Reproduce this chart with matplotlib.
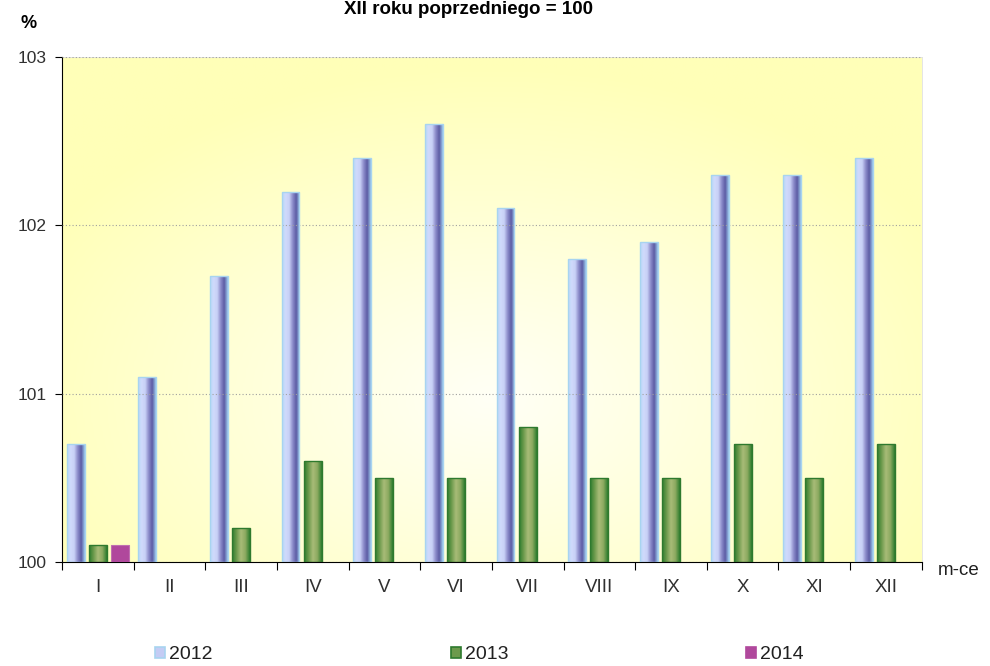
import numpy as np
import matplotlib
matplotlib.use('Agg')
import matplotlib.pyplot as plt
from matplotlib.colors import LinearSegmentedColormap

plt.rcParams['font.family'] = ['Liberation Sans', 'DejaVu Sans']

# data
months = ['I', 'II', 'III', 'IV', 'V', 'VI', 'VII', 'VIII', 'IX', 'X', 'XI', 'XII']
y2012 = [100.7, 101.1, 101.7, 102.2, 102.4, 102.6, 102.1, 101.8, 101.9, 102.3, 102.3, 102.4]
y2013 = [100.1, np.nan, 100.2, 100.6, 100.5, 100.5, 100.8, 100.5, 100.5, 100.7, 100.5, 100.7]
y2014 = [100.1] + [np.nan] * 11
series_names = ['2012', '2013', '2014']

base = 100
fig = plt.figure(figsize=(9.9, 6.66), dpi=100)
ax = fig.add_axes([0.0626, 0.1562, 0.8685, 0.7582])

x = np.arange(len(months))
w = 0.25
off = 0.31

# radial yellow background
gx, gy = np.meshgrid(np.linspace(-1, 1, 300), np.linspace(-1, 1, 200))
r = np.sqrt((gx / 1.0) ** 2 + ((gy + 0.35) / 1.1) ** 2)
r = np.clip(r / 1.2, 0, 1)
bg_cmap = LinearSegmentedColormap.from_list('bg', ['#FFFFF6', '#FFFFD8', '#FFFFB8'])
ax.imshow(r, cmap=bg_cmap, extent=[-0.5, 11.5, 100, 103], aspect='auto',
          origin='lower', zorder=0, vmin=0, vmax=1)

cm12 = LinearSegmentedColormap.from_list('c12', ['#B8D8F8', '#D0DAFC', '#C8D0F6', '#8C8CCA', '#5C5CA4', '#9CC8EC'])
cm13 = LinearSegmentedColormap.from_list('c13', ['#2E7D2E', '#6C9A4C', '#A8BC78', '#8CAA60', '#2E7D2E'])
grad = np.linspace(0, 1, 64).reshape(1, -1)


def grad_bars(xpos, vals, cmap, edge):
    bars = ax.bar(xpos, np.array(vals) - base, w, bottom=base, color='none',
                  edgecolor=edge, linewidth=1.0, zorder=3)
    for b in bars:
        if np.isnan(b.get_height()):
            continue
        bx, by = b.get_x(), b.get_y()
        im = ax.imshow(grad, cmap=cmap, aspect='auto', zorder=2,
                       extent=[bx, bx + b.get_width(), by, by + b.get_height()])
        im.set_clip_path(b)
    return bars


grad_bars(x - off, y2012, cm12, '#A8D4F0')
grad_bars(x, y2013, cm13, '#2E7A2E')
ax.bar(x + off, np.array(y2014) - base, w, bottom=base, color='#B0489C',
       edgecolor='#C070B0', linewidth=0.8, zorder=3)

ax.set_xlim(-0.5, 11.5)
ax.set_ylim(100, 103)
ax.set_yticks([100, 101, 102, 103])
ax.set_yticklabels(['100', '101', '102', '103'], fontsize=12.5, color='#303030')
ax.yaxis.grid(True, linestyle=(0, (1, 2)), color='#A0A0A0', linewidth=0.8)
ax.set_axisbelow(False)

ax.set_xticks(np.arange(-0.5, 12, 1))
ax.set_xticklabels([])
ax.set_xticks(x, minor=True)
ax.set_xticklabels(months, minor=True, fontsize=13.5, color='#303030')
ax.tick_params(axis='x', which='minor', length=0, pad=12)
ax.tick_params(axis='x', which='major', length=6, direction='out')
ax.tick_params(axis='y', length=5, direction='out', pad=6)

for s in ['top', 'right']:
    ax.spines[s].set_color('#E0E0E0')
    ax.spines[s].set_linewidth(0.6)
ax.spines['left'].set_color('black')
ax.spines['bottom'].set_color('black')

fig.text(0.473, 0.998, 'XII roku poprzedniego = 100', ha='center', va='top',
         fontsize=13.5, fontweight='bold')
fig.text(0.021, 0.965, '%', ha='left', va='center', fontsize=13, fontweight='bold')
fig.text(0.947, 0.143, 'm-ce', ha='left', va='center', fontsize=13.5, color='#202020')

# legend
lx = [0.157, 0.456, 0.754]
lcol = ['#C4CCF4', '#6C9A4C', '#B0489C']
ledge = ['#A8D4F0', '#2E7A2E', '#B0489C']
for xx, name, c, e in zip(lx, series_names, lcol, ledge):
    fig.patches.append(plt.Rectangle((xx, 0.0115), 0.010, 0.0165, transform=fig.transFigure,
                                     facecolor=c, edgecolor=e, linewidth=1.2))
    fig.text(xx + 0.014, 0.018, name, ha='left', va='center', fontsize=14, color='#202020')

fig.savefig('out.png', dpi=100)
